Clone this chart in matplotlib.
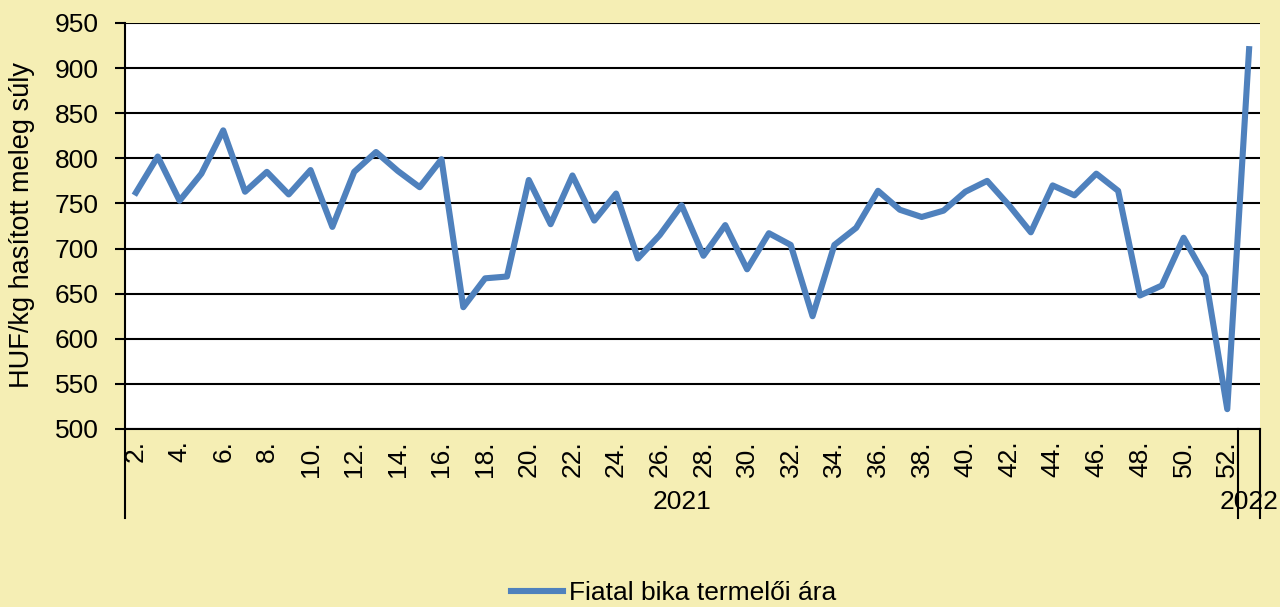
import matplotlib.pyplot as plt
import numpy as np

# weekly producer price of young bulls, 2021 week 2 .. 2022 week 1
weeks = list(range(2, 53)) + [1]
years = ['2021'] * 51 + ['2022']
prices = [762, 802, 753, 783, 831, 763, 785, 760, 787, 724,
          785, 807, 786, 768, 799, 635, 667, 669, 776, 727,
          781, 731, 761, 689, 715, 748, 692, 726, 677, 717,
          704, 625, 704, 723, 764, 743, 735, 742, 763, 775,
          748, 718, 770, 759, 783, 764, 648, 659, 712, 669,
          522, 921]
yticks = list(range(500, 951, 50))

bg = '#F5EEB4'
blue = '#4F81BD'
plt.rcParams['font.family'] = ['Liberation Sans', 'DejaVu Sans']
fs = 19

fig = plt.figure(figsize=(12.8, 6.07), dpi=100, facecolor=bg)
ax = fig.add_axes([125 / 1280, 178 / 607, 1135 / 1280, 406 / 607])
ax.set_facecolor('white')

x = np.arange(len(prices))
ax.plot(x, prices, color=blue, lw=4.4, label='Fiatal bika termelői ára')

ax.set_xlim(-0.5, len(prices) - 0.5)
ax.set_ylim(500, 950)
ax.set_yticks(yticks)
ax.yaxis.grid(True, color='black', lw=1.5)
ax.set_axisbelow(True)
ax.tick_params(axis='y', labelsize=fs, length=7, width=1.5, pad=12, direction='out')

# every other week label
ax.set_xticks(x[::2])
ax.set_xticklabels([f'{w}.' for w in weeks[::2]], rotation=90, fontsize=fs, va='top', ha='center')
ax.tick_params(axis='x', length=0, pad=8)

for s in ['top', 'right']:
    ax.spines[s].set_visible(False)
ax.spines['left'].set_linewidth(1.5)
ax.spines['bottom'].set_linewidth(1.5)

# year grouping lines and labels
trans = ax.get_xaxis_transform()
n2021 = years.count('2021')
for xv in [-0.5, n2021 - 0.5, len(prices) - 0.5]:
    ax.plot([xv, xv], [0, -0.219], transform=trans, color='black', lw=1.5, clip_on=False)
ax.text((n2021 - 1) / 2, -0.18, '2021', transform=trans, ha='center', va='center', fontsize=fs)
ax.text(n2021, -0.18, '2022', transform=trans, ha='center', va='center', fontsize=fs)

fig.text(22 / 1280, 1 - 225 / 607, 'HUF/kg hasított meleg súly', rotation=90,
         ha='center', va='center', fontsize=19.5)

fig.legend(loc='center', bbox_to_anchor=(0.526, 1 - 593 / 607), frameon=False,
           fontsize=fs, handlelength=2.0, handletextpad=0.2)

fig.savefig('out.png', dpi=100, facecolor=bg)
